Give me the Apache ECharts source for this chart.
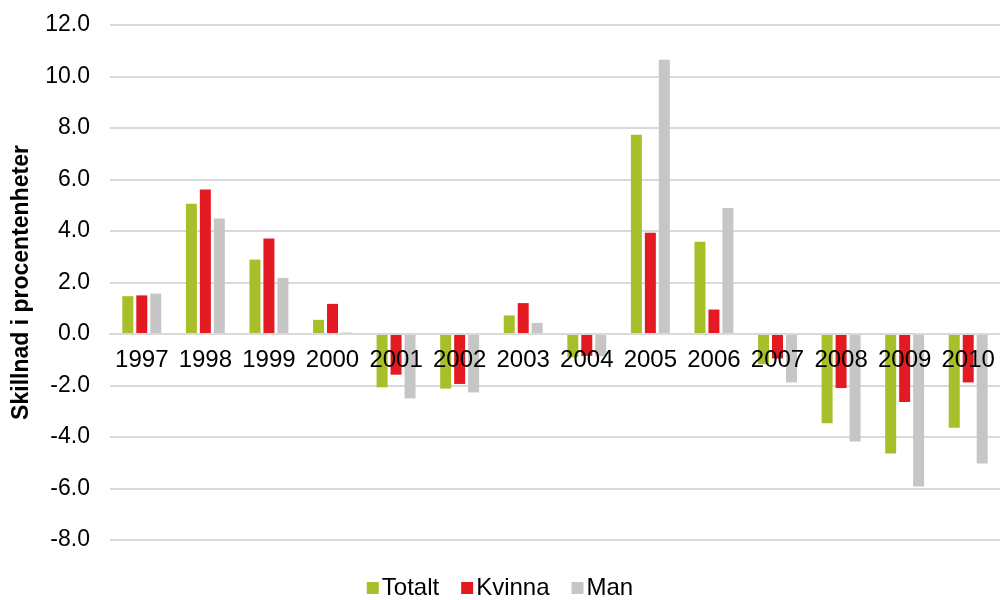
<!DOCTYPE html>
<html>
<head>
<meta charset="utf-8">
<script src="https://cdn.jsdelivr.net/npm/echarts@6/dist/echarts.min.js"></script>
<style>html,body{margin:0;padding:0;background:#fff;}#c{width:1000px;height:600px;}</style>
</head>
<body>
<div id="c"></div>
<script>
const years = ['1997','1998','1999','2000','2001','2002','2003','2004','2005','2006','2007','2008','2009','2010'];
const totalt = [1.47, 5.06, 2.89, 0.55, -2.07, -2.12, 0.72, -0.9, 7.74, 3.58, -1.17, -3.47, -4.64, -3.64];
const kvinna = [1.5, 5.61, 3.71, 1.17, -1.58, -1.94, 1.2, -0.85, 3.93, 0.95, -0.95, -2.1, -2.64, -1.88];
const man = [1.57, 4.49, 2.18, 0.06, -2.5, -2.27, 0.43, -0.87, 10.65, 4.89, -1.88, -4.17, -5.92, -5.03];
const yMin = -8, yMax = 12;

const chart = echarts.init(document.getElementById('c'));
const font = 'Liberation Sans, Arial, sans-serif';
const gridTop = 25, gridBottom = 60, H = 600;
const plotH = H - gridTop - gridBottom;
const zeroOffset = plotH * (0 - yMin) / (yMax - yMin);
chart.setOption({
  animation: false,
  grid: { left: 110, right: 0, top: gridTop, bottom: gridBottom, containLabel: false, outerBoundsMode: 'none' },
  legend: {
    top: 571, left: 'center',
    itemWidth: 12, itemHeight: 12, itemGap: 22,
    icon: 'rect',
    textStyle: { fontSize: 24, fontFamily: font, color: '#000', padding: [0,0,0,-2] },
    data: ['Totalt','Kvinna','Man']
  },
  xAxis: {
    type: 'category', data: years,
    offset: -zeroOffset, z: 10,
    axisLine: { onZero: false, lineStyle: { color: '#d9d9d9', width: 2 } },
    axisTick: { show: false },
    axisLabel: { fontSize: 24, fontFamily: font, color: '#000', margin: 14, interval: 0 }
  },
  yAxis: {
    type: 'value', min: yMin, max: yMax, interval: 2,
    name: 'Skillnad i procentenheter', nameLocation: 'middle', nameGap: 77,
    nameTextStyle: { fontSize: 23, fontWeight: 'bold', fontFamily: font, color: '#000' },
    axisLine: { show: false }, axisTick: { show: false },
    axisLabel: { fontSize: 23, fontFamily: font, color: '#000', margin: 20, formatter: v => v.toFixed(1) },
    splitLine: { lineStyle: { color: '#d9d9d9', width: 2 } }
  },
  series: [
    { name: 'Totalt', type: 'bar', data: totalt, itemStyle: { color: '#a9bf2a' }, barWidth: 11, barGap: '27%' },
    { name: 'Kvinna', type: 'bar', data: kvinna, itemStyle: { color: '#e41a22' }, barWidth: 11, barGap: '27%' },
    { name: 'Man', type: 'bar', data: man, itemStyle: { color: '#c6c6c6' }, barWidth: 11, barGap: '27%' }
  ]
});
</script>
</body>
</html>
